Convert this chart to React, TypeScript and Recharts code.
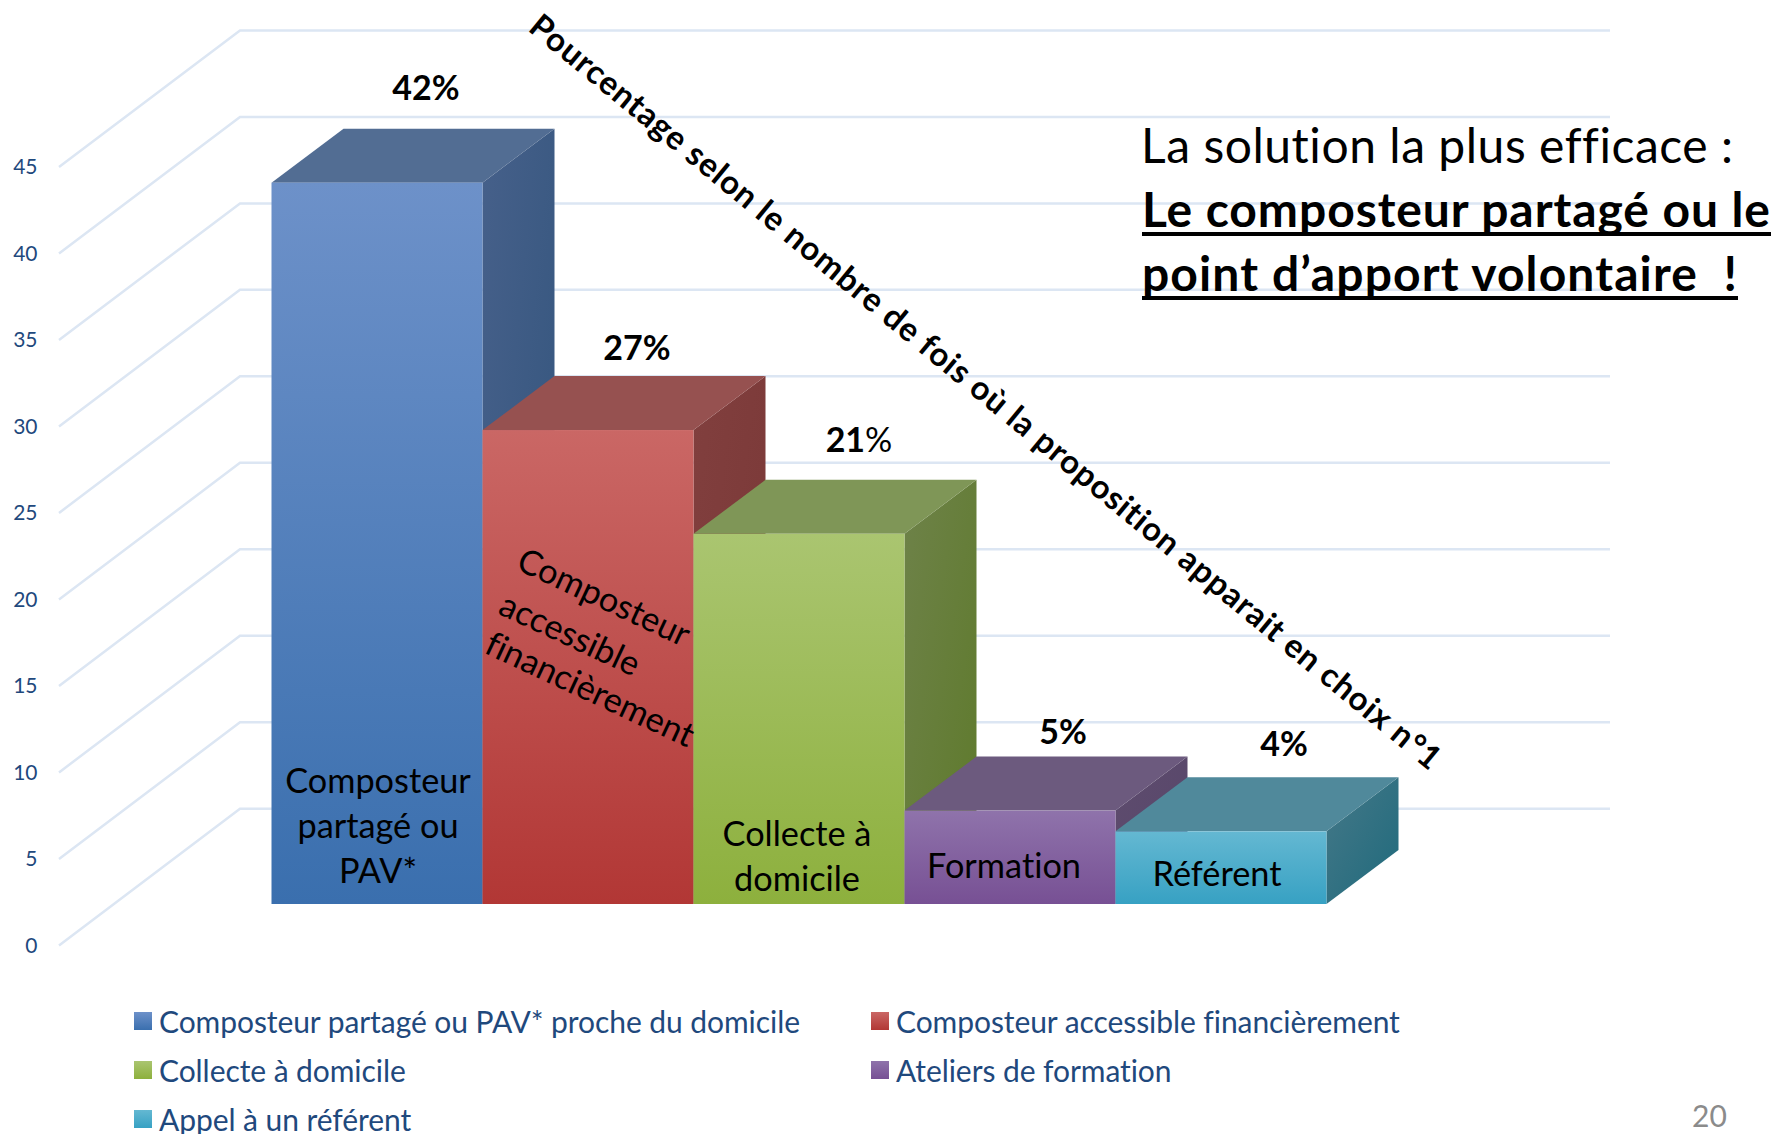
import { BarChart, Bar, XAxis, YAxis, CartesianGrid, Legend, LabelList } from "recharts";

const seriesNames = [
  "Composteur partagé ou PAV* proche du domicile",
  "Composteur accessible financièrement",
  "Collecte à domicile",
  "Ateliers de formation",
  "Appel à un référent",
];
const seriesKeys = ["pav", "accessible", "collecte", "formation", "referent"];
const seriesValues = [41.7, 27.4, 21.4, 5.4, 4.2];
const valueLabels = ["42%", "27%", "21%", "5%", "4%"];
const axisTicks = [0, 5, 10, 15, 20, 25, 30, 35, 40, 45];
const barCaptions = [
  ["Composteur", "partagé ou", "PAV*"],
  ["Composteur", "accessible", "financièrement"],
  ["Collecte à", "domicile"],
  ["Formation"],
  ["Référent"],
];

const palettes = [
  { front: ["#6d91c9", "#3a6fae"], top: "#526d93", side: ["#46608a", "#33557d"] },
  { front: ["#ca6765", "#b23735"], top: "#965150", side: ["#813f3e", "#7a3837"] },
  { front: ["#aac570", "#8db03d"], top: "#7f9657", side: ["#6e8249", "#5e7a2b"] },
  { front: ["#8f73ab", "#775094"], top: "#6c5a7e", side: ["#5e4c6e", "#57466a"] },
  { front: ["#64b8d2", "#37a1c3"], top: "#50899b", side: ["#457888", "#1f6a7c"] },
];
const labelOffsets = [
  [49, -95],
  [49, -82],
  [60, -94],
  [53, -79],
  [63, -87],
];
// caption placement: baseline of each line, absolute in the picture
const captionSpots = [
  [[378, 793], [378, 838], [378, 883]],
  [[599, 608], [565, 645], [585, 700]],
  [[797, 846], [797, 891]],
  [[1004, 878]],
  [[1217, 886]],
];

const chartData = [
  {
    category: "Choix n°1",
    ...Object.fromEntries(seriesKeys.map((k, i) => [k, seriesValues[i]])),
  },
];

const FONT = "Lato, 'Open Sans', sans-serif";
const NAVY = "#1f497d";
const GRID = "#dce6f3";
// the bars stand forward of the wall, so their floor is above the axis zero
const FLOOR = -41.4;
const DEPTH_X = 72;
const DEPTH_Y = 54;

function Box(props: any) {
  const { x, y, width, height, index } = props;
  const i = props.seriesIndex;
  const pal = palettes[i];
  const top = y + FLOOR;
  const bottom = top + height;
  const right = x + width;
  return (
    <g key={index}>
      <polygon
        points={`${right},${top} ${right + DEPTH_X},${top - DEPTH_Y} ${right + DEPTH_X},${bottom - DEPTH_Y} ${right},${bottom}`}
        fill={`url(#side${i})`}
      />
      <polygon
        points={`${x},${top} ${x + DEPTH_X},${top - DEPTH_Y} ${right + DEPTH_X},${top - DEPTH_Y} ${right},${top}`}
        fill={pal.top}
      />
      <rect x={x} y={top} width={width} height={height} fill={`url(#front${i})`} />
    </g>
  );
}

function BarTexts(props: any) {
  const { x, y, width, height, seriesIndex } = props;
  const [dx, dy] = labelOffsets[seriesIndex];
  const top = height < 0 ? y + height : y;
  const tilt = seriesIndex === 1 ? 25 : 0;
  return (
    <g style={{ fontVariantLigatures: "none" }}>
      <text
        x={x + width / 2 + dx}
        y={top + FLOOR + dy + 12}
        textAnchor="middle"
        fontFamily={FONT}
        fontSize={34}
        fontWeight={700}
        fill="#000"
      >
        {seriesIndex === 2 ? (
          <>
            21<tspan fontWeight={400}>%</tspan>
          </>
        ) : (
          valueLabels[seriesIndex]
        )}
      </text>
      {barCaptions[seriesIndex].map((line, k) => {
        const [cx, cy] = captionSpots[seriesIndex][k];
        return (
          <text
            key={line}
            transform={`translate(${cx} ${cy}) rotate(${tilt})`}
            textAnchor="middle"
            fontFamily={FONT}
            fontSize={34.3}
            fill="#000"
          >
            {line}
          </text>
        );
      })}
    </g>
  );
}

function GridLine(props: any) {
  const { y1, index } = props;
  return (
    <polyline
      key={index}
      points={`59,${y1} 240,${y1 - 136.6} 1610,${y1 - 136.6}`}
      fill="none"
      stroke={GRID}
      strokeWidth={2.5}
    />
  );
}

function LegendBox({ payload }: any) {
  const items = payload || [];
  return (
    <div style={{ position: "relative", width: 1400, height: 128, fontFamily: FONT, fontSize: 30, color: NAVY }}>
      {items.map((item: any, i: number) => {
        const pal = palettes[seriesNames.indexOf(item.value)];
        const col = i % 2;
        const row = Math.floor(i / 2);
        return (
          <div
            key={item.value}
            style={{
              position: "absolute",
              left: col === 0 ? 134 : 871,
              top: row * 49,
              display: "flex",
              alignItems: "center",
              whiteSpace: "nowrap",
              lineHeight: "30px",
              letterSpacing: -0.07,
            }}
          >
            <span
              style={{
                width: 18,
                height: 18,
                marginRight: 7,
                background: `linear-gradient(${pal.front[0]}, ${pal.front[1]})`,
              }}
            />
            {item.value}
          </div>
        );
      })}
    </div>
  );
}

export default function App() {
  const black = { fontFamily: FONT, fill: "#000", style: { fontVariantLigatures: "none", whiteSpace: "pre" } };
  return (
    <div style={{ position: "absolute", left: 0, top: 0, width: 1777, height: 1134, background: "#fff", overflow: "hidden" }}>
      <BarChart
        width={1777}
        height={1134}
        data={chartData}
        barCategoryGap={0}
        barGap={0}
        margin={{ top: 167, right: 453, bottom: 188.6, left: 0 }}
      >
        <defs>
          {palettes.map((p, i) => (
            <linearGradient key={`front${i}`} id={`front${i}`} x1="0" y1="0" x2="0" y2="1">
              <stop offset="0" stopColor={p.front[0]} />
              <stop offset="1" stopColor={p.front[1]} />
            </linearGradient>
          ))}
          {palettes.map((p, i) => (
            <linearGradient key={`side${i}`} id={`side${i}`} x1="0" y1="0" x2="1" y2="1">
              <stop offset="0" stopColor={p.side[0]} />
              <stop offset="1" stopColor={p.side[1]} />
            </linearGradient>
          ))}
        </defs>
        <CartesianGrid vertical={false} horizontal={(p: any) => <GridLine {...p} />} />
        <XAxis dataKey="category" hide />
        <YAxis
          width={271.5}
          domain={[0, 45]}
          ticks={axisTicks}
          interval={0}
          tickLine={false}
          axisLine={false}
          tickSize={0}
          tickMargin={234}
          tick={{ fill: NAVY, fontFamily: FONT, fontSize: 21 }}
        />
        <Legend
          layout="horizontal"
          align="center"
          verticalAlign="middle"
          itemSorter={null}
          content={<LegendBox />}
          wrapperStyle={{ left: 0, top: 1006, width: 1400, height: 128 }}
        />
        {seriesKeys.map((key, i) => (
          <Bar
            key={key}
            dataKey={key}
            name={seriesNames[i]}
            fill={palettes[i].front[0]}
            isAnimationActive={false}
            shape={(p: any) => <Box {...p} seriesIndex={i} />}
          >
            <LabelList dataKey={key} content={(p: any) => <BarTexts {...p} seriesIndex={i} />} />
          </Bar>
        ))}

        <text {...black} transform="translate(527 30) rotate(39.4)" fontSize={33} fontWeight={700} textLength={1168}>
          Pourcentage selon le nombre de fois où la proposition apparait en choix n°1
        </text>

        <text {...black} x={1141} y={163} fontSize={48} textLength={592}>
          La solution la plus efficace :
        </text>
        <text {...black} x={1142} y={227} fontSize={48} fontWeight={700} textLength={628}>
          Le composteur partagé ou le
        </text>
        <line x1={1142} x2={1771} y1={234} y2={234} stroke="#000" strokeWidth={4} />
        <text {...black} x={1142} y={291} fontSize={48} fontWeight={700} textLength={595}>
          point d’apport volontaire  !
        </text>
        <line x1={1142} x2={1738} y1={298} y2={298} stroke="#000" strokeWidth={4} />

        <text x={1692} y={1127} fontFamily={FONT} fontSize={30} fill="#8b8b8b">
          20
        </text>
      </BarChart>
    </div>
  );
}
